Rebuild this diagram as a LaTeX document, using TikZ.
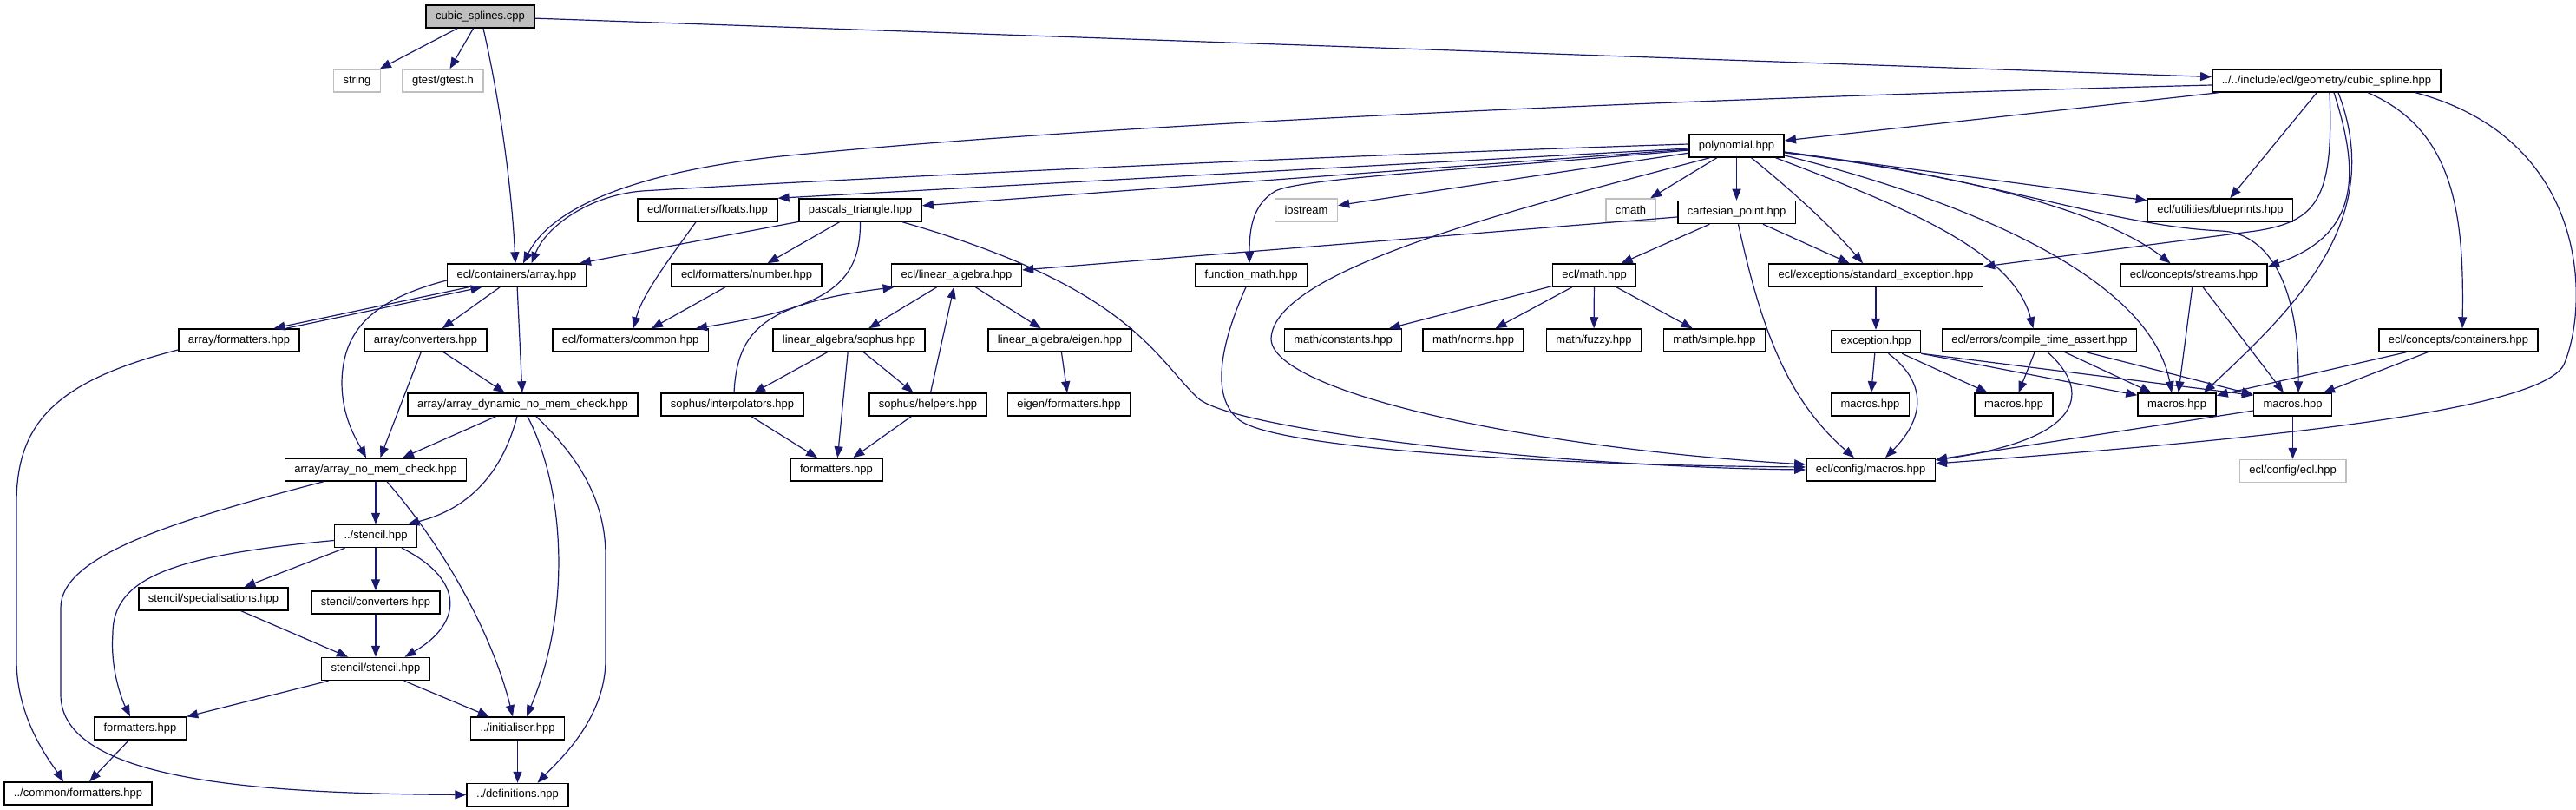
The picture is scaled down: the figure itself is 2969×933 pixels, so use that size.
\documentclass[tikz,border=0pt]{standalone}
\usepackage{fontspec}
\setmainfont{Liberation Sans}
\usepackage{xcolor}
\definecolor{edgeblue}{RGB}{25,25,112}
\definecolor{sysgray}{RGB}{191,191,191}
\usepackage{tikz}
\usetikzlibrary{arrows.meta,positioning}

\begin{document}
\begin{tikzpicture}[x=1pt,y=-1pt,
  node distance=49pt,
  fbox/.style={rectangle,draw=black,line width=1.5pt,fill=white,minimum height=26pt,inner xsep=11pt,inner ysep=2pt,font=\fontsize{13}{15}\selectfont},
  sbox/.style={fbox,draw=sysgray},
  rootbox/.style={fbox,fill=sysgray},
  arrow/.style={-{Triangle[length=13pt,width=10pt]},line width=1.2pt,edgeblue}
]
  \useasboundingbox (0,0) rectangle (2969,933);

  % Top
  \node[rootbox] (root) at (553.5,19) {cubic\_splines.cpp};
  \node[sbox] (str) at (411.5,93) {string};
  \node[sbox] (gtest) at (510.5,93) {gtest/gtest.h};
  \node[fbox] (spline) at (2681.5,93) {../../include/ecl/geometry/cubic\_spline.hpp};
  \node[fbox] (poly) at (2001.5,168) {polynomial.hpp};

  % Headers
  \node[fbox] (floats) at (815.5,242) {ecl/formatters/floats.hpp};
  \node[fbox] (pascal) at (991.5,242) {pascals\_triangle.hpp};
  \node[sbox] (iostr) at (1505.5,242) {iostream};
  \node[sbox] (cmath) at (1879.5,242) {cmath};
  \node[fbox,below=of poly] (cart) {cartesian\_point.hpp};
  \node[fbox] (blue) at (2559,242) {ecl/utilities/blueprints.hpp};

  \node[fbox] (array) at (595.5,317) {ecl/containers/array.hpp};
  \node[fbox] (number) at (860.5,317) {ecl/formatters/number.hpp};
  \node[fbox] (linalg) at (1102.5,317) {ecl/linear\_algebra.hpp};
  \node[fbox] (fmath) at (1442,317) {function\_math.hpp};
  \node[fbox] (emath) at (1837.5,317) {ecl/math.hpp};
  \node[fbox] (stdexc) at (2162,317) {ecl/exceptions/standard\_exception.hpp};
  \node[fbox] (streams) at (2528.5,317) {ecl/concepts/streams.hpp};

  \node[fbox] (afmt) at (275.5,392) {array/formatters.hpp};
  \node[fbox] (aconv) at (490.5,392) {array/converters.hpp};
  \node[fbox] (common) at (726.5,392) {ecl/formatters/common.hpp};
  \node[fbox] (sophus) at (978.5,392) {linear\_algebra/sophus.hpp};
  \node[fbox] (eigen) at (1221.5,392) {linear\_algebra/eigen.hpp};
  \node[fbox] (mconst) at (1548,392) {math/constants.hpp};
  \node[fbox] (mnorms) at (1698,392) {math/norms.hpp};
  \node[fbox] (mfuzzy) at (1837,392) {math/fuzzy.hpp};
  \node[fbox] (msimple) at (1976,392) {math/simple.hpp};
  \node[fbox,below=of stdexc] (exc) {exception.hpp};
  \node[fbox] (cta) at (2350.5,392) {ecl/errors/compile\_time\_assert.hpp};
  \node[fbox] (cont) at (2833.5,392) {ecl/concepts/containers.hpp};

  \node[fbox] (adyn) at (602.5,466) {array/array\_dynamic\_no\_mem\_check.hpp};
  \node[fbox] (interp) at (844,466) {sophus/interpolators.hpp};
  \node[fbox] (helpers) at (1069.5,466) {sophus/helpers.hpp};
  \node[fbox] (efmt) at (1232,466) {eigen/formatters.hpp};
  \node[fbox] (macA) at (2155.5,466) {macros.hpp};
  \node[fbox] (macB) at (2321,466) {macros.hpp};
  \node[fbox] (macC) at (2509,466) {macros.hpp};
  \node[fbox] (macD) at (2642.5,466) {macros.hpp};

  \node[fbox] (anomem) at (433,541) {array/array\_no\_mem\_check.hpp};
  \node[fbox] (sfmt) at (964,541) {formatters.hpp};
  \node[fbox] (cfgmac) at (2156,541) {ecl/config/macros.hpp};
  \node[sbox,below=of macD] (cfgecl) {ecl/config/ecl.hpp};

  \node[fbox,below=of anomem] (stencil) {../stencil.hpp};
  \node[fbox] (sspec) at (246,690) {stencil/specialisations.hpp};
  \node[fbox,below=of stencil] (sconv) {stencil/converters.hpp};
  \node[fbox,below=of sconv] (sst) {stencil/stencil.hpp};
  \node[fbox] (fmt) at (161.5,839) {formatters.hpp};
  \node[fbox] (init) at (596.5,839) {../initialiser.hpp};
  \node[fbox] (cfmt) at (90,914) {../common/formatters.hpp};
  \node[fbox,below=of init] (defs) {../definitions.hpp};

  % Includes of cubic_splines.cpp
  \draw[arrow] (root) -- (str); \draw[arrow] (root) -- (gtest); \draw[arrow] (root) -- (spline);
  \draw[arrow] ([xshift=3.5pt]root.south) .. controls (577,120) and (590,220) .. ([xshift=-1.5pt]array.north);

  % cubic_spline.hpp
  \draw[arrow] ([yshift=-5pt]spline.west) .. controls (2000,112) and (1300,140) .. (900,180) .. controls (760,195) and (640,230) .. ([xshift=7.5pt]array.north);
  \draw[arrow] (spline) -- (poly); \draw[arrow] (spline) -- (blue);
  \draw[arrow] ([xshift=3.5pt]spline.south) .. controls (2690,230) and (2670,255) .. (2600,266) -- ([yshift=10pt]stdexc.east);
  \draw[arrow] ([xshift=8.5pt]spline.south) .. controls (2720,200) and (2720,270) .. ([yshift=10pt]streams.east);
  \draw[arrow] ([xshift=13.5pt]spline.south) .. controls (2750,250) and (2650,350) .. ([xshift=31pt]macC.north);
  \draw[arrow] ([xshift=47.5pt]spline.south) .. controls (2830,150) and (2840,250) .. ([xshift=4.5pt]cont.north);
  \draw[arrow] ([xshift=102.5pt]spline.south) .. controls (2984,160) and (2985,350) .. (2955,420) .. controls (2925,480) and (2520,512) .. ([yshift=7pt]cfgmac.east);

  % polynomial.hpp
  \draw[arrow] ([yshift=2pt]poly.west) .. controls (1500,180) and (900,210) .. (740,220) .. controls (680,225) and (630,260) .. ([xshift=17pt]array.north);
  \draw[arrow] (poly) -- (floats.north east); \draw[arrow] (poly) -- (pascal); \draw[arrow] (poly) -- (iostr);
  \draw[arrow] ([yshift=-5pt]poly.west) .. controls (1700,195) and (1500,205) .. (1470,220) .. controls (1445,235) and (1440,260) .. ([xshift=-2pt]fmath.north);
  \draw[arrow] (poly) -- (cmath); \draw[arrow] (poly) -- (cart); \draw[arrow] (poly) -- (blue);
  \draw[arrow] ([xshift=17pt]poly.south) .. controls (2060,215) and (2110,260) .. ([xshift=-15pt]stdexc.north);
  \draw[arrow] ([xshift=-31pt]poly.south) .. controls (1750,240) and (1468,310) .. (1465,390) .. controls (1465,450) and (1750,515) .. ([yshift=6pt]cfgmac.west);
  \draw[arrow] ([xshift=45pt]poly.south) .. controls (2200,240) and (2320,290) .. ([xshift=-7pt]cta.north);
  \draw[arrow] ([yshift=-7pt]poly.east) .. controls (2250,200) and (2420,240) .. ([xshift=-27pt]streams.north);
  \draw[arrow] ([yshift=-8pt]poly.east) .. controls (2300,205) and (2430,260) .. (2560,266) .. controls (2610,268) and (2650,320) .. ([xshift=6.5pt]macD.north);
  \draw[arrow] ([yshift=-11pt]poly.east) .. controls (2300,240) and (2480,330) .. ([xshift=-6pt]macC.north);

  % floats, pascals_triangle, cartesian_point
  \draw[arrow] ([xshift=-13.5pt]floats.south) .. controls (770,300) and (740,340) .. ([xshift=3.5pt]common.north);
  \draw[arrow] (pascal) -- (array); \draw[arrow] (pascal) -- (number);
  \draw[arrow] (pascal.south) .. controls (992,330) and (950,355) .. ([xshift=-15pt]common.north east);
  \draw[arrow] ([xshift=48.5pt]pascal.south) .. controls (1300,330) and (1330,410) .. (1380,458) .. controls (1420,496) and (1800,538) .. (cfgmac.west);
  \draw[arrow] (cart) -- (linalg); \draw[arrow] (cart) -- (emath); \draw[arrow] (cart) -- (stdexc);
  \draw[arrow] ([xshift=2pt]cart.south) .. controls (2030,380) and (2060,460) .. ([xshift=-19pt]cfgmac.north);

  % function_math, ecl/math, exceptions
  \draw[arrow] ([xshift=-6pt]fmath.south) .. controls (1405,400) and (1395,460) .. (1430,485) .. controls (1480,518) and (1800,536) .. ([yshift=3pt]cfgmac.west);
  \draw[arrow] (emath) -- (mconst); \draw[arrow] (emath) -- (mnorms); \draw[arrow] (emath) -- (mfuzzy); \draw[arrow] (emath) -- (msimple);
  \draw[arrow] (stdexc) -- (exc);
  \draw[arrow] (streams) -- (macC); \draw[arrow] (streams) -- (macD);
  \draw[arrow] (exc) -- (macA); \draw[arrow] (exc) -- (macB);
  \draw[arrow] ([xshift=14.5pt]exc.south) .. controls (2220,440) and (2220,480) .. ([xshift=17pt]cfgmac.north);
  \draw[arrow] (exc.south east) -- ([yshift=-3pt]macC.north west);
  \draw[arrow] (exc.south east) -- ([yshift=-3pt]macD.north west);
  \draw[arrow] (cta) -- (macB); \draw[arrow] (cta) -- (macC); \draw[arrow] (cta) -- (macD);
  \draw[arrow] ([xshift=9.5pt]cta.south) .. controls (2410,450) and (2405,505) .. ([yshift=11pt]cfgmac.east);
  \draw[arrow] (cont) -- (macC); \draw[arrow] (cont) -- (macD);
  \draw[arrow] (macD) -- (cfgmac); \draw[arrow] (macD) -- (cfgecl);

  % formatters and linear algebra
  \draw[arrow] (number) -- (common);
  \draw[arrow] (linalg) -- (sophus); \draw[arrow] (linalg) -- (eigen);
  \draw[arrow] (sophus) -- (interp); \draw[arrow] (sophus) -- (sfmt); \draw[arrow] (sophus) -- (helpers);
  \draw[arrow] (helpers) -- (linalg); \draw[arrow] (helpers) -- (sfmt); \draw[arrow] (interp) -- (sfmt);
  \draw[arrow] ([xshift=2pt]interp.north) .. controls (850,380) and (880,350) .. ([xshift=-72pt]linalg.south);
  \draw[arrow] (eigen) -- (efmt);

  % array
  \draw[arrow] ([xshift=-55pt]array.south) -- ([xshift=40pt]afmt.north);
  \draw[arrow] ([xshift=54pt]afmt.north) -- ([xshift=-40pt]array.south);
  \draw[arrow] (array) -- (aconv); \draw[arrow] (array) -- (adyn);
  \draw[arrow] ([yshift=-6pt]array.west) .. controls (430,345) and (395,380) .. (394,440) .. controls (394,480) and (410,505) .. ([xshift=-11pt]anomem.north);
  \draw[arrow] ([yshift=-11pt]afmt.west) .. controls (60,440) and (19,490) .. (19,580) -- (19,760) .. controls (19,830) and (60,880) .. ([xshift=-17pt]cfmt.north);
  \draw[arrow] (aconv) -- (adyn); \draw[arrow] (aconv) -- (anomem); \draw[arrow] (adyn) -- (anomem);
  \draw[arrow] ([xshift=-6.5pt]adyn.south) .. controls (580,540) and (545,585) .. ([xshift=37pt]stencil.north);
  \draw[arrow] ([xshift=5.5pt]adyn.south) .. controls (650,560) and (660,700) .. ([xshift=10.5pt]init.north);
  \draw[arrow] ([xshift=15.5pt]adyn.south) .. controls (660,520) and (698,570) .. (698,640) -- (698,760) .. controls (698,830) and (640,880) .. ([xshift=23pt]defs.north);
  \draw[arrow] (anomem) -- (stencil);
  \draw[arrow] ([xshift=13pt]anomem.south) .. controls (520,640) and (570,740) .. ([xshift=-5.5pt]init.north);
  \draw[arrow] ([xshift=-60pt]anomem.south) .. controls (200,600) and (70,640) .. (70,700) -- (70,800) .. controls (70,900) and (300,914) .. (defs.west);

  % stencil
  \draw[arrow] (stencil) -- (sspec); \draw[arrow] (stencil) -- (sconv);
  \draw[arrow] ([xshift=30pt]stencil.south) .. controls (540,670) and (530,720) .. ([xshift=33.5pt]sst.north);
  \draw[arrow] ([yshift=-5pt]stencil.west) .. controls (200,640) and (130,665) .. (130,730) .. controls (127,770) and (140,805) .. ([xshift=-11.5pt]fmt.north);
  \draw[arrow] (sspec) -- (sst); \draw[arrow] (sconv) -- (sst);
  \draw[arrow] (sst) -- (fmt); \draw[arrow] (sst) -- (init);
  \draw[arrow] (fmt) -- (cfmt); \draw[arrow] (init) -- (defs);
\end{tikzpicture}
\end{document}
